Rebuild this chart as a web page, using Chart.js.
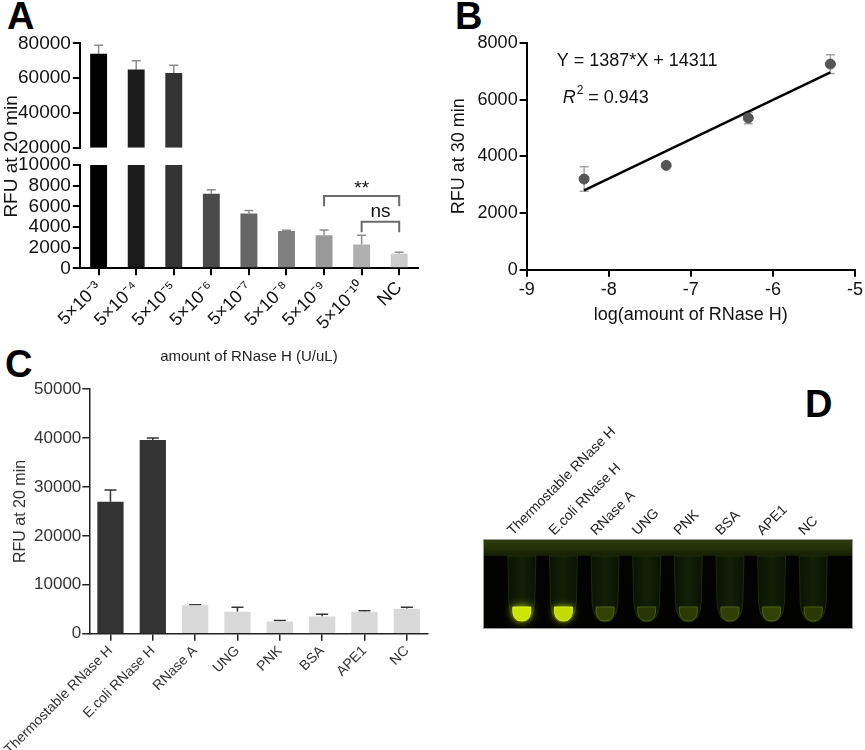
<!DOCTYPE html>
<html>
<head>
<meta charset="utf-8">
<script src="https://cdn.jsdelivr.net/npm/chart.js@4.4.1/dist/chart.umd.min.js"></script>
<style>
  body { margin: 0; background: #fff; font-family: "Liberation Sans", Arial, sans-serif; }
  #fig { position: relative; width: 865px; height: 750px; overflow: hidden; }
  .box { position: absolute; }
  .tag { position: absolute; font-weight: bold; font-size: 38px; line-height: 1; color: #000; }
</style>
</head>
<body>
<div id="fig">
  <div class="tag" style="left:7px;top:-3px">A</div>
  <div class="tag" style="left:455px;top:-3px">B</div>
  <div class="tag" style="left:5px;top:345px">C</div>
  <div class="tag" style="left:805px;top:385px">D</div>

  <div class="box" style="left:0;top:30px;width:430px;height:340px"><canvas id="chartA"></canvas></div>
  <div class="box" style="left:430px;top:30px;width:435px;height:300px"><canvas id="chartB"></canvas></div>
  <div class="box" style="left:0;top:378px;width:430px;height:382px"><canvas id="chartC"></canvas></div>
  <div class="box" style="left:460px;top:398px;width:405px;height:243px"><canvas id="chartD"></canvas></div>
</div>

<script>
// panel A: RNase H dilution series
const doseLabels = ["5×10⁻³", "5×10⁻⁴", "5×10⁻⁵", "5×10⁻⁶", "5×10⁻⁷", "5×10⁻⁸", "5×10⁻⁹", "5×10⁻¹⁰", "NC"];
const doseValues = [74000, 65000, 63000, 7200, 5300, 3600, 3200, 2300, 1400];
const doseErrors = [5000, 5000, 4500, 400, 300, 80, 500, 900, 150];
const sigBrackets = [
    { from: 6, to: 8, level: 7000, tip: 6000, text: "**" },
    { from: 7, to: 8, level: 4500, tip: 3500, text: "ns" },
];

// panel B: linear fit
const logAmount = [-8.3, -7.3, -6.3, -5.3];
const rfu30 = [3200, 3680, 5350, 7250];
const rfu30Err = [430, 0, 200, 330];
const slope = 1387;
const intercept = 14311;
const rSquared = 0.943;

// panel C: specificity
const enzymeLabels = ["Thermostable RNase H", "E.coli RNase H", "RNase A", "UNG", "PNK", "BSA", "APE1", "NC"];
const enzymeValues = [27000, 39600, 5800, 4500, 2500, 3500, 4500, 5100];
const enzymeErrors = [2400, 400, 100, 900, 200, 500, 200, 300];

// panel D: tube photo, relative brightness of each tube
const tubeGlow = [1, 0.95, 0.2, 0.14, 0.16, 0.18, 0.2, 0.15];

const FONT = '"Liberation Sans", Arial, sans-serif';
Chart.defaults.font.family = FONT;
Chart.defaults.color = "#111";
Chart.defaults.animation = false;
Chart.defaults.plugins.legend.display = false;
Chart.defaults.plugins.tooltip.enabled = false;

const breakLow = 10000;
const breakHigh = 20000;
const doseColours = ["#000000", "#1c1c1c", "#333333", "#4a4a4a", "#666666", "#808080", "#999999", "#b0b0b0", "#cccccc"];
const plain = v => String(v);

const errorBars = {
    id: "errorBars",
    beforeDatasetsDraw(chart) {
        const ctx = chart.ctx;
        chart.data.datasets.forEach((ds, di) => {
            const eb = ds.errorBars;
            if (!eb) return;
            const meta = chart.getDatasetMeta(di);
            const yScale = chart.scales[meta.yAxisID];
            ctx.save();
            ctx.strokeStyle = eb.color;
            ctx.lineWidth = eb.width;
            meta.data.forEach((el, i) => {
                if (eb.hi[i] == null) return;
                const x = el.x;
                const yHi = yScale.getPixelForValue(eb.hi[i]);
                const yLo = eb.lo ? yScale.getPixelForValue(eb.lo[i]) : el.y;
                const h = eb.cap / 2;
                ctx.beginPath();
                ctx.moveTo(x, yLo);
                ctx.lineTo(x, yHi);
                ctx.moveTo(x - h, yHi);
                ctx.lineTo(x + h, yHi);
                if (eb.lo) {
                    ctx.moveTo(x - h, yLo);
                    ctx.lineTo(x + h, yLo);
                }
                ctx.stroke();
            });
            ctx.restore();
        });
    },
};

const brackets = {
    id: "brackets",
    afterDatasetsDraw(chart) {
        const { ctx } = chart;
        const xs = chart.scales.x;
        const ys = chart.scales.yLow;
        ctx.save();
        ctx.strokeStyle = "#6b6b6b";
        ctx.lineWidth = 2;
        ctx.fillStyle = "#111";
        ctx.font = "19px " + FONT;
        ctx.textAlign = "center";
        ctx.textBaseline = "bottom";
        sigBrackets.forEach(b => {
            const x1 = xs.getPixelForValue(b.from);
            const x2 = xs.getPixelForValue(b.to);
            const yl = ys.getPixelForValue(b.level);
            const yt = ys.getPixelForValue(b.tip);
            ctx.beginPath();
            ctx.moveTo(x1, yt);
            ctx.lineTo(x1, yl);
            ctx.lineTo(x2, yl);
            ctx.lineTo(x2, yt);
            ctx.stroke();
            ctx.fillText(b.text, (x1 + x2) / 2, yl - (b.text === "**" ? -2 : 1));
        });
        ctx.restore();
    },
};

const axisLine = { color: "#000", width: 2 };
const tickGrid = { drawOnChartArea: false, color: "#000", lineWidth: 2, tickLength: 7, offset: false };
const roomForTitle = s => { s.width += 16; };

// ---- A
new Chart(document.getElementById("chartA"), {
    type: "bar",
    data: {
        labels: doseLabels,
        datasets: [
            {
                data: doseValues.map(v => (v > breakHigh ? [breakHigh, v] : null)),
                yAxisID: "yTop",
                backgroundColor: doseColours,
                grouped: false,
                barPercentage: 0.45,
                categoryPercentage: 1,
                errorBars: { hi: doseValues.map((v, i) => (v > breakHigh ? v + doseErrors[i] : null)), color: "#8c8c8c", width: 1.5, cap: 9 },
            },
            {
                data: doseValues.map(v => Math.min(v, breakLow)),
                yAxisID: "yLow",
                backgroundColor: doseColours,
                grouped: false,
                barPercentage: 0.45,
                categoryPercentage: 1,
                errorBars: { hi: doseValues.map((v, i) => (v <= breakLow ? v + doseErrors[i] : null)), color: "#8c8c8c", width: 1.5, cap: 9 },
            },
        ],
    },
    options: {
        responsive: true,
        maintainAspectRatio: false,
        layout: { padding: { top: 7, right: 12 } },
        scales: {
            x: {
                grid: tickGrid,
                border: axisLine,
                ticks: { minRotation: 45, maxRotation: 45, autoSkip: false, font: { size: 18 }, color: "#111", padding: 2 },
                title: { display: true, text: "amount of RNase H (U/uL)", font: { size: 15 }, color: "#222", padding: { top: 12 } },
            },
            yLow: {
                stack: "a",
                stackWeight: 103,
                min: 0,
                max: breakLow,
                ticks: { stepSize: 2000, autoSkip: false, font: { size: 19 }, color: "#111", padding: 2, callback: plain },
                grid: tickGrid,
                border: axisLine,
                afterFit: roomForTitle,
            },
            yGap: {
                stack: "a",
                stackWeight: 17,
                ticks: { display: false },
                grid: { display: false },
                border: { display: false },
                title: { display: true, text: "RFU at 20 min", font: { size: 19 }, color: "#111", padding: 0 },
            },
            yTop: {
                stack: "a",
                stackWeight: 104,
                min: breakHigh,
                max: 80000,
                ticks: { stepSize: 20000, autoSkip: false, font: { size: 19 }, color: "#111", padding: 2, callback: plain },
                grid: tickGrid,
                border: axisLine,
                afterFit: roomForTitle,
            },
        },
    },
    plugins: [errorBars, brackets],
});

// ---- B
const fitLabel = {
    id: "fitLabel",
    afterDraw(chart) {
        const { ctx, chartArea: a } = chart;
        ctx.save();
        ctx.fillStyle = "#111";
        ctx.textBaseline = "middle";
        ctx.font = "18px " + FONT;
        ctx.fillText(`Y = ${slope}*X + ${intercept}`, a.left + 30, a.top + 18);
        let x = a.left + 36;
        const y = a.top + 55;
        ctx.font = "italic 18px " + FONT;
        ctx.fillText("R", x, y);
        x += ctx.measureText("R").width + 1;
        ctx.font = "12px " + FONT;
        ctx.fillText("2", x, y - 7);
        x += ctx.measureText("2").width;
        ctx.font = "18px " + FONT;
        ctx.fillText(` = ${rSquared}`, x, y);
        ctx.restore();
    },
};

const fitEnds = [logAmount[0], logAmount[logAmount.length - 1]];
new Chart(document.getElementById("chartB"), {
    type: "scatter",
    data: {
        datasets: [
            {
                data: logAmount.map((x, i) => ({ x, y: rfu30[i] })),
                backgroundColor: "#555",
                borderColor: "#555",
                pointRadius: 5,
                errorBars: {
                    hi: rfu30.map((v, i) => (rfu30Err[i] ? v + rfu30Err[i] : null)),
                    lo: rfu30.map((v, i) => v - rfu30Err[i]),
                    color: "#a6a6a6", width: 1.5, cap: 9,
                },
            },
            {
                type: "line",
                data: fitEnds.map(x => ({ x, y: slope * x + intercept })),
                borderColor: "#000",
                borderWidth: 2.5,
                pointRadius: 0,
            },
        ],
    },
    options: {
        responsive: true,
        maintainAspectRatio: false,
        layout: { padding: { top: 4, right: 9, left: 18 } },
        scales: {
            x: {
                type: "linear",
                min: -9,
                max: -5,
                ticks: { stepSize: 1, font: { size: 18 }, color: "#111", padding: 2 },
                grid: tickGrid,
                border: axisLine,
                title: { display: true, text: "log(amount of RNase H)", font: { size: 18 }, color: "#111", padding: { top: 2 } },
            },
            y: {
                min: 0,
                max: 8000,
                ticks: { stepSize: 2000, autoSkip: false, font: { size: 18 }, color: "#111", padding: 2, callback: plain },
                grid: tickGrid,
                border: axisLine,
                title: { display: true, text: "RFU at 30 min", font: { size: 18 }, color: "#111", padding: { top: 0, bottom: 6 } },
            },
        },
    },
    plugins: [errorBars, fitLabel],
});

// ---- C
const enzymeColours = enzymeLabels.map((l, i) => (i < 2 ? "#333333" : "#d9d9d9"));
new Chart(document.getElementById("chartC"), {
    type: "bar",
    data: {
        labels: enzymeLabels,
        datasets: [{
            data: enzymeValues,
            backgroundColor: enzymeColours,
            barPercentage: 0.62,
            categoryPercentage: 1,
            errorBars: { hi: enzymeValues.map((v, i) => v + enzymeErrors[i]), color: "#333", width: 1.5, cap: 12 },
        }],
    },
    options: {
        responsive: true,
        maintainAspectRatio: false,
        layout: { padding: { top: 0, right: 2 } },
        scales: {
            x: {
                grid: { ...tickGrid, lineWidth: 1.5, color: "#222" },
                border: { color: "#222", width: 1.5 },
                ticks: { minRotation: 45, maxRotation: 45, autoSkip: false, font: { size: 14 }, color: "#333", padding: 2 },
            },
            y: {
                min: 0,
                max: 50000,
                ticks: { stepSize: 10000, autoSkip: false, font: { size: 17 }, color: "#333", padding: 1, callback: plain },
                grid: { ...tickGrid, lineWidth: 1.5, color: "#222" },
                border: { color: "#222", width: 1.5 },
                title: { display: true, text: "RFU at 20 min", font: { size: 16 }, color: "#333", padding: { top: 2, bottom: 3 } },
            },
        },
    },
    plugins: [errorBars],
});

// ---- D
function mixColour(a, b, t) {
    const pa = [1, 3, 5].map(k => parseInt(a.substr(k, 2), 16));
    const pb = [1, 3, 5].map(k => parseInt(b.substr(k, 2), 16));
    return "rgb(" + pa.map((c, i) => Math.round(c + (pb[i] - c) * t)).join(",") + ")";
}

const tubes = {
    id: "tubes",
    beforeDatasetsDraw(chart) {
        const { ctx, chartArea: a } = chart;
        const meta = chart.getDatasetMeta(0);
        const left = a.left - 18;
        const right = a.right + 19;
        ctx.save();
        ctx.fillStyle = "#020300";
        ctx.fillRect(left, a.top, right - left, a.bottom - a.top);
        const g = ctx.createLinearGradient(0, a.top, 0, a.top + 17);
        g.addColorStop(0, "#2e3c0e");
        g.addColorStop(0.5, "#253208");
        g.addColorStop(1, "#141c05");
        ctx.fillStyle = g;
        ctx.fillRect(left, a.top, right - left, 17);

        const t = a.top + 17;
        const b = a.bottom - 7;
        meta.data.forEach((el, i) => {
            const cx = el.x;
            const glow = tubeGlow[i];
            // tube body
            ctx.beginPath();
            ctx.moveTo(cx - 14, t);
            ctx.lineTo(cx - 13, b - 20);
            ctx.quadraticCurveTo(cx - 12, b, cx, b);
            ctx.quadraticCurveTo(cx + 12, b, cx + 13, b - 20);
            ctx.lineTo(cx + 14, t);
            ctx.closePath();
            const tg = ctx.createLinearGradient(cx - 14, 0, cx + 14, 0);
            tg.addColorStop(0, "#0a1204");
            tg.addColorStop(0.5, "#132007");
            tg.addColorStop(1, "#0a1204");
            ctx.fillStyle = tg;
            ctx.fill();
            ctx.strokeStyle = "rgba(70,95,25,0.35)";
            ctx.lineWidth = 1;
            ctx.stroke();

            // liquid at the tip
            const col = mixColour("#0e1805", "#cde600", glow);
            ctx.beginPath();
            ctx.moveTo(cx - 9, b - 15);
            ctx.lineTo(cx + 9, b - 15);
            ctx.quadraticCurveTo(cx + 10, b - 1, cx, b - 1);
            ctx.quadraticCurveTo(cx - 10, b - 1, cx - 9, b - 15);
            ctx.closePath();
            ctx.shadowColor = col;
            ctx.shadowBlur = 8 * glow;
            ctx.fillStyle = col;
            ctx.fill();
            ctx.shadowBlur = 0;
            ctx.strokeStyle = mixColour("#2c3e12", "#e0f530", glow);
            ctx.stroke();
        });
        ctx.strokeStyle = "#9a9a9a";
        ctx.lineWidth = 1;
        ctx.strokeRect(left + 0.5, a.top + 0.5, right - left - 1, a.bottom - a.top - 1);
        ctx.restore();
    },
};

new Chart(document.getElementById("chartD"), {
    type: "bar",
    data: {
        labels: enzymeLabels,
        datasets: [{ data: tubeGlow, backgroundColor: "rgba(0,0,0,0)" }],
    },
    options: {
        responsive: true,
        maintainAspectRatio: false,
        layout: { padding: { left: 41, right: 31, top: 11, bottom: 12 } },
        scales: {
            x: {
                position: "top",
                grid: { display: false, drawTicks: false },
                border: { display: false },
                ticks: { minRotation: 45, maxRotation: 45, autoSkip: false, font: { size: 14 }, color: "#222", padding: 0 },
                afterFit: s => { s.height = 130; },
            },
            y: { display: false, min: 0, max: 1 },
        },
    },
    plugins: [tubes],
});
</script>
</body>
</html>
